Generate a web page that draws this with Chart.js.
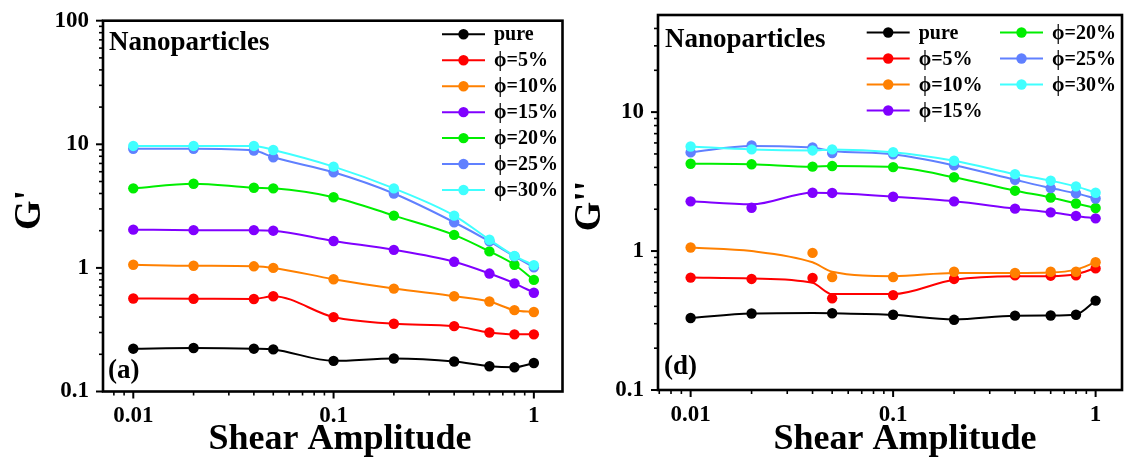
<!DOCTYPE html>
<html>
<head>
<meta charset="utf-8">
<script src="https://cdn.jsdelivr.net/npm/chart.js@4.4.1/dist/chart.umd.min.js"></script>
<style>
  html, body { margin: 0; padding: 0; background: #ffffff; }
  #wrap { position: relative; width: 1126px; height: 459px; overflow: hidden; background: #fff; }
  canvas { position: absolute; top: 0; }
  #cA { left: 0; }
  #cD { left: 565px; }
</style>
</head>
<body>
<div id="wrap">
  <canvas id="cA" width="565" height="459"></canvas>
  <canvas id="cD" width="561" height="459"></canvas>
</div>
<script>
// ---------------- data ----------------
const strain = [0.01, 0.02, 0.04, 0.05, 0.1, 0.2, 0.4, 0.6, 0.8, 1];
const seriesLabels = ['pure', 'ϕ=5%', 'ϕ=10%', 'ϕ=15%', 'ϕ=20%', 'ϕ=25%', 'ϕ=30%'];

const xMajorTicks = [0.01, 0.1, 1];
const xTickLabels = ['0.01', '0.1', '1'];
const yMajorTicksA = [0.1, 1, 10, 100];
const yTickLabelsA = ['0.1', '1', '10', '100'];
const yMajorTicksD = [0.1, 1, 10];
const yTickLabelsD = ['0.1', '1', '10'];

// Panel (a): G'
const Gp_pure = [0.222, 0.225, 0.222, 0.219, 0.177, 0.185, 0.175, 0.160, 0.157, 0.170];
const Gp_5    = [0.566, 0.563, 0.560, 0.590, 0.400, 0.353, 0.338, 0.300, 0.290, 0.290];
const Gp_10   = [1.06, 1.04, 1.03, 1.00, 0.81, 0.68, 0.59, 0.535, 0.455, 0.44];
const Gp_15   = [2.04, 2.02, 2.02, 2.00, 1.65, 1.40, 1.12, 0.90, 0.75, 0.63];
const Gp_20   = [4.40, 4.80, 4.45, 4.40, 3.73, 2.65, 1.85, 1.36, 1.06, 0.80];
const Gp_25   = [9.2, 9.2, 8.9, 7.85, 5.94, 4.0, 2.34, 1.64, 1.24, 1.01];
const Gp_30   = [9.7, 9.7, 9.7, 9.0, 6.6, 4.4, 2.65, 1.69, 1.25, 1.05];

// Panel (d): G'' measured points (null = no symbol shown)
const Gpp_pure = [0.330, 0.355, null, 0.357, 0.348, 0.320, 0.343, 0.344, 0.348, 0.44];
const Gpp_5    = [0.644, 0.630, 0.640, 0.457, 0.482, 0.630, 0.670, 0.665, 0.670, 0.75];
const Gpp_10   = [1.06, null, 0.97, 0.65, 0.65, 0.71, 0.695, 0.71, 0.71, 0.83];
const Gpp_15   = [2.28, 2.05, 2.63, 2.62, 2.46, 2.28, 2.02, 1.90, 1.79, 1.72];
const Gpp_20   = [4.25, 4.21, 4.05, 4.09, 4.02, 3.40, 2.72, 2.43, 2.20, 2.04];
const Gpp_25   = [5.13, 5.76, 5.57, 5.07, 4.97, 4.14, 3.26, 2.84, 2.60, 2.39];
const Gpp_30   = [5.66, 5.39, 5.30, 5.39, 5.15, 4.47, 3.58, 3.21, 2.92, 2.63];

// Panel (d): smoothed fit curves as drawn
const GppFit_pure = [0.330, 0.355, 0.358, 0.357, 0.348, 0.322, 0.343, 0.344, 0.350, 0.44];
const GppFit_5    = [0.644, 0.635, 0.590, 0.490, 0.490, 0.622, 0.660, 0.660, 0.680, 0.755];
const GppFit_10   = [1.06, 1.00, 0.83, 0.71, 0.66, 0.695, 0.695, 0.70, 0.735, 0.83];
const GppFit_15   = [2.28, 2.17, 2.63, 2.62, 2.46, 2.28, 2.02, 1.90, 1.79, 1.72];
const GppFit_20   = Gpp_20;
const GppFit_25   = [5.13, 5.70, 5.55, 5.25, 4.97, 4.14, 3.26, 2.84, 2.60, 2.39];
const GppFit_30   = Gpp_30;

// ---------------- styles ----------------
const colors = ['#000000', '#ff0000', '#ff8000', '#8000ff', '#00ee00', '#6080ff', '#40ffff'];
const SERIF = "'Liberation Serif', 'Times New Roman', 'DejaVu Serif', serif";

const GpSeries  = [Gp_pure, Gp_5, Gp_10, Gp_15, Gp_20, Gp_25, Gp_30];
const GppSeries = [Gpp_pure, Gpp_5, Gpp_10, Gpp_15, Gpp_20, Gpp_25, Gpp_30];
const GppFits   = [GppFit_pure, GppFit_5, GppFit_10, GppFit_15, GppFit_20, GppFit_25, GppFit_30];

function pts(arr) {
  const out = [];
  arr.forEach((v, i) => { if (v !== null) out.push({ x: strain[i], y: v }); });
  return out;
}

function minorTicks(min, max) {
  const out = [];
  for (let e = -4; e <= 3; e++) {
    for (let m = 2; m <= 9; m++) {
      const v = m * Math.pow(10, e);
      if (v > min * 1.0001 && v < max * 0.9999) out.push(v);
    }
  }
  return out;
}

function decoPlugin(o) {
  return {
    id: 'deco',
    afterDraw(chart) {
      const ctx = chart.ctx;
      const ca = chart.chartArea;
      const xs = chart.scales.x, ys = chart.scales.y;
      ctx.save();
      ctx.strokeStyle = '#000';
      ctx.lineCap = 'butt';
      // x ticks
      ctx.lineWidth = 2;
      xMajorTicks.forEach(v => {
        const p = xs.getPixelForValue(v);
        ctx.beginPath(); ctx.moveTo(p, ca.bottom); ctx.lineTo(p, ca.bottom + 7); ctx.stroke();
      });
      ctx.lineWidth = 1.6;
      minorTicks(xs.min, xs.max).forEach(v => {
        const p = xs.getPixelForValue(v);
        ctx.beginPath(); ctx.moveTo(p, ca.bottom); ctx.lineTo(p, ca.bottom + 4); ctx.stroke();
      });
      // y ticks
      ctx.lineWidth = 2;
      o.yMajor.forEach(v => {
        const p = ys.getPixelForValue(v);
        ctx.beginPath(); ctx.moveTo(ca.left, p); ctx.lineTo(ca.left - 7, p); ctx.stroke();
      });
      ctx.lineWidth = 1.6;
      minorTicks(ys.min, ys.max).forEach(v => {
        const p = ys.getPixelForValue(v);
        ctx.beginPath(); ctx.moveTo(ca.left, p); ctx.lineTo(ca.left - 4, p); ctx.stroke();
      });
      // frame
      ctx.lineWidth = 2.6;
      ctx.strokeRect(ca.left, ca.top, ca.right - ca.left, ca.bottom - ca.top);

      // texts
      ctx.fillStyle = '#000';
      ctx.textBaseline = 'alphabetic';
      ctx.textAlign = 'left';
      ctx.font = 'bold 27px ' + SERIF;
      ctx.fillText('Nanoparticles', o.nano[0], o.nano[1]);
      ctx.fillText(o.tag, o.tagPos[0], o.tagPos[1]);

      ctx.font = 'bold 36px ' + SERIF;
      ctx.textAlign = 'center';
      ctx.fillText('Shear Amplitude', o.xTitle[0], o.xTitle[1]);

      ctx.save();
      ctx.translate(o.yTitle[0], o.yTitle[1]);
      ctx.rotate(-Math.PI / 2);
      ctx.font = 'bold 38px ' + SERIF;
      ctx.textAlign = 'center';
      ctx.textBaseline = 'middle';
      ctx.fillText(o.yTitleText, 0, 0);
      ctx.restore();

      // legend
      ctx.font = 'bold 20px ' + SERIF;
      ctx.textAlign = 'left';
      ctx.textBaseline = 'middle';
      o.legend.forEach(it => {
        const c = colors[it.i];
        ctx.strokeStyle = c; ctx.lineWidth = 2;
        ctx.beginPath(); ctx.moveTo(it.x, it.y); ctx.lineTo(it.x + 43, it.y); ctx.stroke();
        ctx.fillStyle = c;
        ctx.beginPath(); ctx.arc(it.x + 21.5, it.y, 5.2, 0, Math.PI * 2); ctx.fill();
        ctx.fillStyle = '#000';
        ctx.fillText(seriesLabels[it.i], it.x + 52, it.y + 1);
      });
      ctx.restore();
    }
  };
}

function zeroPad(s) { s.paddingTop = 0; s.paddingBottom = 0; s.paddingLeft = 0; s.paddingRight = 0; }

function scalesFor(o) {
  return {
    x: {
      type: 'logarithmic', min: o.xMin, max: o.xMax,
      grid: { display: false, drawTicks: false },
      border: { display: false },
      afterBuildTicks: s => { s.ticks = xMajorTicks.map(v => ({ value: v, major: true })); },
      afterFit: s => { s.height = o.xH; zeroPad(s); },
      ticks: {
        autoSkip: false, maxRotation: 0, padding: 11, color: '#000',
        font: { family: SERIF, size: 23, weight: 'bold' },
        callback: v => { const k = xMajorTicks.indexOf(v); return k >= 0 ? xTickLabels[k] : ''; }
      }
    },
    y: {
      type: 'logarithmic', min: 0.1, max: o.yMax,
      grid: { display: false, drawTicks: false },
      border: { display: false },
      afterBuildTicks: s => { s.ticks = o.yMajor.map(v => ({ value: v, major: true })); },
      afterFit: s => { s.width = o.yW; zeroPad(s); },
      ticks: {
        autoSkip: false, padding: 14, color: '#000',
        font: { family: SERIF, size: 23, weight: 'bold' },
        callback: v => { const k = o.yMajor.indexOf(v); return k >= 0 ? o.yLabels[k] : ''; }
      }
    }
  };
}

// ---------------- panel (a) ----------------
const dsA = GpSeries.map((arr, i) => ({
  label: seriesLabels[i],
  data: pts(arr),
  borderColor: colors[i], backgroundColor: colors[i],
  pointBackgroundColor: colors[i], pointBorderWidth: 0,
  pointRadius: 5.2, borderWidth: 2,
  cubicInterpolationMode: 'monotone',
  order: 6 - i
}));

const legA = seriesLabels.map((s, i) => ({ i: i, x: 442, y: 34.3 + i * 25.95 }));

new Chart(document.getElementById('cA'), {
  type: 'line',
  data: { datasets: dsA },
  options: {
    responsive: false, animation: false, devicePixelRatio: 1,
    layout: { padding: { top: 20.7, right: 2.5, left: 0, bottom: 0 }, autoPadding: false },
    plugins: { legend: { display: false }, tooltip: { enabled: false } },
    scales: scalesFor({ xMin: 0.00706, xMax: 1.39, xH: 67.5, yW: 103, yMax: 100, yMajor: yMajorTicksA, yLabels: yTickLabelsA })
  },
  plugins: [decoPlugin({
    yMajor: yMajorTicksA, nano: [109, 50], tag: '(a)', tagPos: [108, 378],
    xTitle: [340, 449], yTitle: [30, 210], yTitleText: "G'", legend: legA
  })]
});

// ---------------- panel (d) ----------------
const dsD = [];
GppFits.forEach((arr, i) => {
  dsD.push({
    label: seriesLabels[i] + ' fit',
    data: pts(arr),
    borderColor: colors[i], backgroundColor: colors[i],
    pointRadius: 0, borderWidth: 2,
    cubicInterpolationMode: 'monotone',
    order: 20 - 2 * i
  });
});
GppSeries.forEach((arr, i) => {
  dsD.push({
    label: seriesLabels[i],
    data: pts(arr),
    showLine: false,
    borderColor: colors[i], backgroundColor: colors[i],
    pointBackgroundColor: colors[i], pointBorderWidth: 0,
    pointRadius: 5.2,
    order: 19 - 2 * i
  });
});

const legD = [
  { i: 0, x: 301.7, y: 32.5 }, { i: 1, x: 301.7, y: 58.5 }, { i: 2, x: 301.7, y: 84.5 }, { i: 3, x: 301.7, y: 110.5 },
  { i: 4, x: 435, y: 32.5 }, { i: 5, x: 435, y: 58.5 }, { i: 6, x: 435, y: 84.5 }
];

new Chart(document.getElementById('cD'), {
  type: 'line',
  data: { datasets: dsD },
  options: {
    responsive: false, animation: false, devicePixelRatio: 1,
    layout: { padding: { top: 15, right: 4, left: 0, bottom: 0 }, autoPadding: false },
    plugins: { legend: { display: false }, tooltip: { enabled: false } },
    scales: scalesFor({ xMin: 0.0069, xMax: 1.35, xH: 69, yW: 93, yMax: 50, yMajor: yMajorTicksD, yLabels: yTickLabelsD })
  },
  plugins: [decoPlugin({
    yMajor: yMajorTicksD, nano: [100, 47], tag: '(d)', tagPos: [99, 374],
    xTitle: [340, 449], yTitle: [25, 206], yTitleText: "G''", legend: legD
  })]
});
</script>
</body>
</html>
